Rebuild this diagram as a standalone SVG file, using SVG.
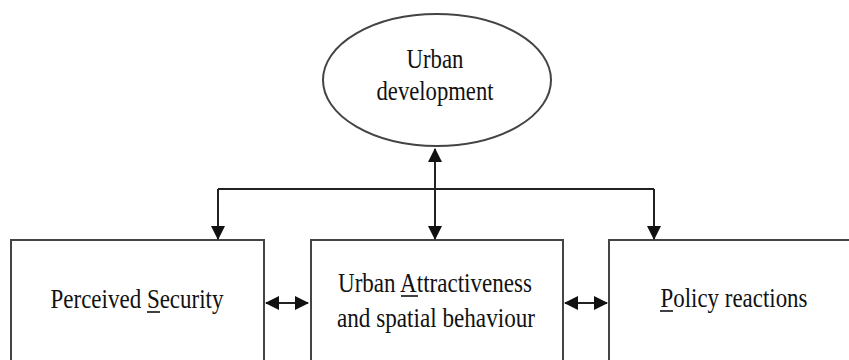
<svg xmlns="http://www.w3.org/2000/svg" width="849" height="360" viewBox="0 0 849 360">
<style>
.shape{fill:#fff;stroke:#444;stroke-width:2}
.con{fill:none;stroke:#222;stroke-width:2}
.t{font-family:"Liberation Serif","Times New Roman",serif;font-size:28px;fill:#111;text-anchor:middle}
.ul{stroke:#111;stroke-width:1.6}
</style>
<defs>
<marker id="ah" viewBox="0 0 14 14" refX="13" refY="7" markerWidth="14" markerHeight="14" markerUnits="userSpaceOnUse" orient="auto-start-reverse">
<path d="M0,0 L14,7 L0,14 Z" fill="#111"/>
</marker>
</defs>
<rect width="849" height="360" fill="#fff"/>
<g id="urban-development">
<ellipse class="shape" cx="437" cy="80" rx="114" ry="66"/>
<text class="t" x="435" y="68" textLength="57" lengthAdjust="spacingAndGlyphs">Urban</text>
<text class="t" x="435" y="100" textLength="117" lengthAdjust="spacingAndGlyphs">development</text>
</g>
<g id="perceived-security">
<rect class="shape" x="11" y="240" width="253" height="130"/>
<text class="t" x="137" y="308" textLength="173" lengthAdjust="spacingAndGlyphs">Perceived Security</text>
<line class="ul" x1="147" y1="312" x2="160" y2="312"/>
</g>
<g id="urban-attractiveness">
<rect class="shape" x="311" y="240" width="252" height="130"/>
<text class="t" x="435" y="292" textLength="194" lengthAdjust="spacingAndGlyphs">Urban Attractiveness</text>
<line class="ul" x1="401" y1="296" x2="418" y2="296"/>
<text class="t" x="436" y="327" textLength="198" lengthAdjust="spacingAndGlyphs">and spatial behaviour</text>
</g>
<g id="policy-reactions">
<rect class="shape" x="609" y="240" width="260" height="130"/>
<text class="t" x="734" y="307" textLength="147" lengthAdjust="spacingAndGlyphs">Policy reactions</text>
<line class="ul" x1="660" y1="311" x2="673" y2="311"/>
</g>
<g id="connectors">
<path class="con" d="M435,149 L435,239" marker-start="url(#ah)" marker-end="url(#ah)"/>
<path class="con" d="M218,189 L654,189"/>
<path class="con" d="M218,189 L218,239" marker-end="url(#ah)"/>
<path class="con" d="M654,189 L654,239" marker-end="url(#ah)"/>
<path class="con" d="M266,303 L308,303" marker-start="url(#ah)" marker-end="url(#ah)"/>
<path class="con" d="M565,303 L607,303" marker-start="url(#ah)" marker-end="url(#ah)"/>
</g>
</svg>
